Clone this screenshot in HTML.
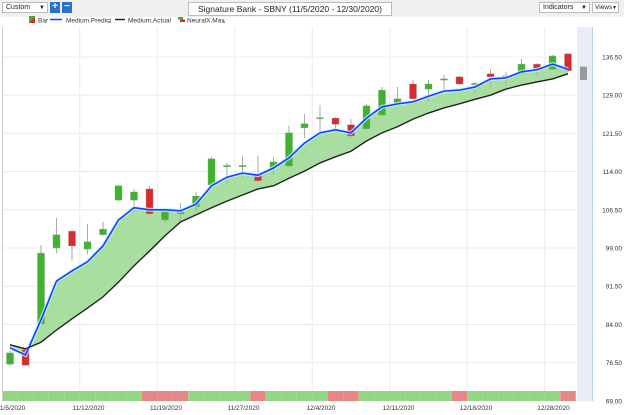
<!DOCTYPE html>
<html><head><meta charset="utf-8"><style>
body{margin:0;width:624px;height:415px;overflow:hidden;background:#fff;font-family:"Liberation Sans",sans-serif;}
#tb{position:absolute;left:0;top:0;width:624px;height:17px;background:#f0f0f0;}
.box{position:absolute;background:#fff;border:1px solid #bbb;font-size:7px;color:#222;box-sizing:border-box;line-height:10px;padding-left:3px}
.btn{position:absolute;top:2px;width:10px;height:11px;background:#2a6fc9;color:#fff;font-size:10px;line-height:10px;text-align:center;font-weight:bold}
svg{position:absolute;left:0;top:0}
</style></head><body>
<div id="tb">
 <div class="box" style="left:2px;top:2px;width:46px;height:11px">Custom<span style="position:absolute;right:2px;font-size:6px">▼</span></div>
 <div class="btn" style="left:50px">+</div>
 <div class="btn" style="left:62px">−</div>
 <div class="box" style="left:188px;top:2px;width:204px;height:14px;font-size:8.5px;line-height:12px;padding-left:0;text-align:center">Signature Bank - SBNY (11/5/2020 - 12/30/2020)</div>
 <div class="box" style="left:539px;top:2px;width:51px;height:11px">Indicators<span style="position:absolute;right:2px;font-size:6px">▼</span></div>
 <div class="box" style="left:592px;top:2px;width:27px;height:11px;font-size:6.5px;padding-left:2px">Views<span style="position:absolute;right:1px;font-size:5px">▼</span></div>
</div>
<svg id="chart" width="624" height="415"></svg>
<script>
const dates=["11/5","11/6","11/9","11/10","11/11","11/12","11/13","11/16","11/17","11/18","11/19","11/20","11/23","11/24","11/25","11/27","11/30","12/1","12/2","12/3","12/4","12/7","12/8","12/9","12/10","12/11","12/14","12/15","12/16","12/17","12/18","12/21","12/22","12/23","12/24","12/28","12/29"];
const opens=[76.2,79.0,84.1,99.0,102.3,98.8,101.6,108.4,108.4,110.6,104.5,105.7,107.1,111.4,115.0,115.0,113.5,114.7,115.1,122.6,124.4,124.5,123.2,122.4,125.1,127.3,131.2,130.2,132.1,132.6,131.1,133.2,132.8,133.2,135.1,134.1,137.1];
const highs=[78.8,79.2,99.6,104.9,102.6,103.7,104.1,111.4,110.6,111.2,106.3,107.8,110.0,116.9,115.7,117.1,117.1,116.9,123.0,125.3,127.1,124.7,124.3,127.3,130.6,130.6,132.0,132.0,133.0,132.8,131.6,134.1,133.5,136.1,135.3,136.9,137.3];
const lows=[75.8,75.8,84.0,98.0,96.5,97.8,101.4,108.2,106.1,105.5,103.9,103.9,106.1,111.2,111.4,112.8,112.0,113.3,114.9,120.6,121.8,122.2,120.6,122.2,124.9,127.1,128.1,127.7,130.0,131.0,129.4,130.6,130.8,133.0,132.8,133.9,133.6];
const closes=[78.4,76.0,98.0,101.6,99.4,100.2,102.7,111.2,110.0,105.7,106.1,106.1,109.2,116.5,115.2,115.2,112.2,115.9,121.6,123.4,124.6,123.3,121.0,126.9,130.0,128.3,128.3,131.2,132.2,131.2,131.3,132.6,132.4,135.1,134.1,136.7,133.8];
const predicted=[79.4,78.0,84.9,92.5,94.5,96.3,99.4,104.5,106.9,106.5,106.5,106.3,107.6,111.2,112.9,113.7,113.3,114.7,116.7,119.6,121.6,122.2,121.6,124.5,126.7,127.3,127.7,128.8,129.8,130.0,130.6,132.2,132.4,133.6,134.0,135.1,134.1];
const actual=[80.0,79.2,80.5,82.9,85.1,87.2,89.4,92.3,95.5,98.4,101.4,104.1,105.5,106.9,108.2,109.4,110.6,111.2,112.7,114.1,115.7,116.9,118.0,120.0,121.6,122.8,124.3,125.5,126.5,127.3,128.2,129.0,130.2,131.0,131.6,132.2,133.2];
const signals=[1,1,1,1,1,1,1,1,1,0,0,0,1,1,1,1,0,1,1,1,1,0,0,1,1,1,1,1,1,0,1,1,1,1,1,1,0];
const yTicks=[69,76.5,84,91.5,99,106.5,114,121.5,129,136.5];
const xLabels=[[0,"11/5/2020"],[5,"11/12/2020"],[10,"11/19/2020"],[15,"11/27/2020"],[20,"12/4/2020"],[25,"12/11/2020"],[30,"12/18/2020"],[35,"12/28/2020"]];
const forecastBox=[132.0,134.6];

const svg=document.getElementById('chart');const NS='http://www.w3.org/2000/svg';
const X=i=>10+15.5*i;
const Y=v=>57+(136.5-v)*38.2/7.5;
function mk(t,a,p){const e=document.createElementNS(NS,t);for(const k in a)e.setAttribute(k,a[k]);(p||svg).appendChild(e);return e;}
let e=mk('rect',{x:3,y:27,width:589,height:374,fill:'#fff'});


e=mk('rect',{x:577,y:27,width:15,height:374,fill:'#e8eef7'});


mk('line',{x1:592.5,y1:27,x2:592.5,y2:401,stroke:'#b8d0ea','stroke-width':1});
mk('line',{x1:2.5,y1:27,x2:2.5,y2:401,stroke:'#ccc','stroke-width':1});
yTicks.forEach(v=>{
 const g=mk('line',{x1:3,y1:Y(v),x2:592,y2:Y(v),stroke:'#ececec','stroke-width':1});
 
 
 const t=mk('text',{x:622,y:Y(v)+2.5,'font-size':'6.5','text-anchor':'end',fill:'#333'});
 t.textContent=v.toFixed(2);
 
 
});
xLabels.forEach(([i,s])=>{
 if(i>0){const g=mk('line',{x1:X(i)-7.75,y1:27,x2:X(i)-7.75,y2:401,stroke:'#ececec','stroke-width':1});
 
 }
 const t=mk('text',{x:X(i)+1,y:410,'font-size':'6.5','text-anchor':'middle',fill:'#333'});
 t.textContent=s;
 
 
});
let pts=predicted.map((v,i)=>X(i)+','+Y(v)).join(' ')+' '+actual.map((v,i)=>X(i)+','+Y(v)).reverse().join(' ');
e=mk('polygon',{points:pts,fill:'#a8dfa0'});


opens.forEach((o,i)=>{
 const c=closes[i],up=c>=o,col=up?'#3db52a':'#d92b2b';
 const g=mk('g',{});
 
 
 mk('line',{x1:X(i),y1:Y(highs[i]),x2:X(i),y2:Y(lows[i]),stroke:'#aaa','stroke-width':1},g);
 const t=Math.min(Y(o),Y(c)),h=Math.max(1.2,Math.abs(Y(o)-Y(c)));
 mk('rect',{x:X(i)-3.5,y:t,width:7,height:h,fill:col,stroke:'#9a9a9a','stroke-width':0.4},g);
});
const lp=a=>a.map((v,i)=>X(i)+','+Y(v)).join(' ');
mk('polyline',{points:lp(predicted),fill:'none',stroke:'#bff4ff','stroke-width':4,'stroke-opacity':0.8});
e=mk('polyline',{points:lp(actual),fill:'none',stroke:'#222','stroke-width':1.4});


e=mk('polyline',{points:lp(predicted),fill:'none',stroke:'#1a3cff','stroke-width':1.6});


e=mk('rect',{x:580,y:Y(forecastBox[1]),width:7,height:Y(forecastBox[0])-Y(forecastBox[1]),fill:'#999'});


signals.forEach((s,i)=>{
 const x0=Math.max(3,X(i)-7.75),x1=Math.min(577,X(i)+7.75);
 const r=mk('rect',{x:x0,y:391,width:x1-x0,height:10,fill:s?'#93d683':'#e88585'});
 
 
});
const lg=mk('g',{});


mk('polygon',{points:'29,16 35,16 29,23',fill:'#3db52a'},lg);mk('polygon',{points:'35,16 35,23 29,23',fill:'#d92b2b'},lg);
[[38,'Bar'],[66,'Medium.Predict'],[128,'Medium.Actual'],[187,'NeuralX.Max']].forEach(([x,s])=>{const t=mk('text',{x:x,y:22.5,'font-size':'6.5',fill:'#333'},lg);t.textContent=s;});
mk('line',{x1:50,y1:19.5,x2:62,y2:19.5,stroke:'#1a3cff','stroke-width':1.5},lg);
mk('line',{x1:115,y1:19.5,x2:125,y2:19.5,stroke:'#222','stroke-width':1.5},lg);
mk('rect',{x:178,y:17,width:5,height:2.5,fill:'#3db52a'},lg);mk('rect',{x:180,y:19.5,width:5,height:2.5,fill:'#d92b2b'},lg);
mk('circle',{cx:109,cy:22,r:1,fill:'#4a7ab0'},lg);mk('circle',{cx:224,cy:22,r:1,fill:'#4a7ab0'},lg);
</script>
</body></html>
